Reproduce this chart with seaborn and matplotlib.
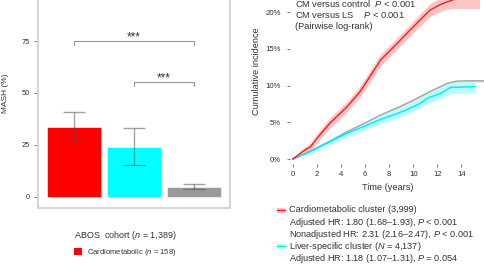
import numpy as np
import pandas as pd
import matplotlib
matplotlib.use("Agg")
import matplotlib.pyplot as plt
from matplotlib.patches import Patch, Rectangle
from matplotlib.lines import Line2D
import seaborn as sns

# ---------------- data ----------------
bar_groups = ["Cardiometabolic", "Liver-specific", "Control"]
bar_values = [33.7, 24.0, 4.8]
bar_err_low = [26.0, 15.5, 3.7]
bar_err_high = [40.9, 33.2, 6.1]
bar_colors = ["#FF0000", "#00FFFF", "#9A9A9A"]
bar_legend_labels = ["Cardiometabolic ($n$ = 158)", "Liver-specific ($n$ = 88)",
                     "Control ($n$ = 1,143)"]
bar_legend_title = "ABOS  cohort ($n$ = 1,389)"
bar_yticks = [0, 25, 50, 75]

cm_time = [0, 0.5, 0.9, 1.5, 2.0, 3.1, 4.5, 5.6, 6.2, 7.3, 8.7, 10.0, 11.4, 12.2, 12.8, 13.5, 14.5, 15.5]
cm_inc = [0, 0.6, 1.1, 1.7, 2.8, 4.9, 7.1, 9.2, 10.7, 13.5, 15.8, 18.0, 20.3, 21.0, 21.4, 21.8, 21.9, 21.9]
cm_lo = [0, 0.3, 0.7, 1.2, 2.2, 4.2, 6.4, 8.5, 9.9, 12.7, 15.0, 17.2, 19.4, 20.0, 20.4, 20.5, 20.5, 20.5]
cm_hi = [0, 0.9, 1.5, 2.2, 3.4, 5.6, 7.8, 9.9, 11.5, 14.3, 16.6, 18.8, 21.2, 21.9, 22.4, 23.0, 23.2, 23.2]

ctl_time = [0, 1, 2, 3, 4.5, 6, 7.3, 8.7, 10.0, 11.4, 12.3, 12.8, 13.6, 14.5, 16.0]
ctl_inc = [0, 0.7, 1.5, 2.3, 3.7, 4.9, 6.0, 7.0, 8.0, 9.2, 9.9, 10.3, 10.6, 10.65, 10.65]

ls_time = [0, 1, 1.7, 3, 4.5, 6, 7.3, 8.7, 10.0, 10.6, 11.2, 12.3, 13.1, 14.0, 15.15]
ls_inc = [0, 0.7, 1.2, 2.3, 3.5, 4.5, 5.4, 6.2, 7.1, 7.6, 8.3, 8.95, 9.75, 9.8, 9.85]
ls_lo = [0, 0.5, 0.9, 1.9, 3.0, 4.0, 4.8, 5.6, 6.5, 7.0, 7.6, 8.2, 8.9, 8.95, 8.95]
ls_hi = [0, 0.9, 1.5, 2.7, 4.0, 5.0, 6.0, 6.9, 7.8, 8.3, 9.0, 9.8, 10.5, 10.5, 10.5]

km_xticks = [0, 2, 4, 6, 8, 10, 12, 14]
km_yticks = [0, 5, 10, 15, 20]
pval_lines = ["CM versus control  $P$ < 0.001",
              "CM versus LS    $P$ < 0.001",
              "(Pairwise log-rank)"]
km_legend_labels = ["Cardiometabolic cluster (3,999)",
                    "Adjusted HR: 1.80 (1.68–1.93), $P$ < 0.001",
                    "Nonadjusted HR: 2.31 (2.16–2.47), $P$ < 0.001",
                    "Liver-specific cluster ($N$ = 4,137)",
                    "Adjusted HR: 1.18 (1.07–1.31), $P$ = 0.054"]
km_legend_keys = ["CM", None, None, "LS", None]

# ---------------- style ----------------
sns.set_style("white")
plt.rcParams["font.family"] = ["Liberation Sans", "DejaVu Sans"]
plt.rcParams["mathtext.fontset"] = "custom"
plt.rcParams["mathtext.it"] = "Liberation Sans:italic"
plt.rcParams["mathtext.rm"] = "Liberation Sans"
TXT = "#333333"
line_colors = {"Control": "#A6A6A6", "LS": "#00E8F0", "CM": "#FF1A1A"}
band_colors = {"Control": "#DDDDDD", "LS": "#B8FCFC", "CM": "#FFC4C4"}

W, H = 485, 264
fig = plt.figure(figsize=(W / 100, H / 100), dpi=100)

def px_rect(l, t, r, b):
    return [l / W, 1 - b / H, (r - l) / W, (b - t) / H]

# ---------------- left: bar chart ----------------
ax1 = fig.add_axes(px_rect(38, -22, 230, 208))
df_bar = pd.DataFrame({"group": bar_groups, "value": bar_values})
sns.barplot(data=df_bar, x="group", y="value", hue="group", palette=bar_colors,
            order=bar_groups, hue_order=bar_groups, errorbar=None, width=0.9,
            legend=False, ax=ax1, saturation=1, edgecolor="white", linewidth=0.4)
xpos = np.arange(len(bar_groups))
vals = np.array(bar_values)
yerr = np.vstack([vals - np.array(bar_err_low), np.array(bar_err_high) - vals])
ax1.errorbar(xpos, vals, yerr=yerr, fmt="none", ecolor="#555555", alpha=0.55,
             elinewidth=1.0, capsize=8.2, capthick=1.0)
ax1.set_xlim(-0.6, 2.6)
ax1.set_ylim(-5.3, 105.3)
ax1.set_yticks(bar_yticks)
ax1.set_xticks([])
ax1.set_xlabel("")
ax1.set_ylabel("MASH (%)", fontsize=6.0, color=TXT, va="center")
ax1.yaxis.set_label_coords(-0.169, 0.5)
ax1.tick_params(axis="y", length=3, width=0.7, color="#777777", pad=2.5,
                labelsize=5.4, labelcolor=TXT, left=True)
for sp in ax1.spines.values():
    sp.set_color("#D4D4D4")
    sp.set_linewidth(1.4)

# significance brackets
def bracket(i, j, y, drop, ax):
    ax.plot([xpos[i], xpos[i], xpos[j], xpos[j]], [y - drop, y, y, y - drop],
            color="#9A9A9A", lw=0.8)
    ax.text((xpos[i] + xpos[j]) / 2, y + 0.3, "***", ha="center", va="baseline",
            fontsize=8.5, color=TXT)
bracket(0, 2, 75.1, 1.8, ax1)
bracket(1, 2, 55.1, 1.8, ax1)

handles1 = [Patch(facecolor=c, edgecolor="none") for c in bar_colors]
leg1 = fig.legend(handles1, bar_legend_labels, title=bar_legend_title,
                  loc="upper left", bbox_to_anchor=(74 / W, 1 - 229 / H),
                  frameon=False, fontsize=5.5, title_fontsize=6.5,
                  handlelength=1.1, handleheight=1.1, handletextpad=0.6,
                  labelspacing=0.7, borderpad=0, borderaxespad=0, alignment="left")
for t in leg1.get_texts():
    t.set_color(TXT)
leg1.get_title().set_color(TXT)

# ---------------- right: cumulative incidence ----------------
ax2 = fig.add_axes(px_rect(290, -22, 485.5, 164))
df_km = pd.concat([
    pd.DataFrame({"t": ctl_time, "inc": ctl_inc, "grp": "Control"}),
    pd.DataFrame({"t": ls_time, "inc": ls_inc, "grp": "LS"}),
    pd.DataFrame({"t": cm_time, "inc": cm_inc, "grp": "CM"}),
])
ax2.fill_between(ctl_time, np.array(ctl_inc) - 0.15, np.array(ctl_inc) + 0.15,
                 color=band_colors["Control"], lw=0)
ax2.fill_between(ls_time, ls_lo, ls_hi, color=band_colors["LS"], lw=0)
ax2.fill_between(cm_time, cm_lo, cm_hi, color=band_colors["CM"], lw=0)
sns.lineplot(data=df_km, x="t", y="inc", hue="grp", palette=line_colors,
             estimator=None, sort=False, legend=False, lw=1.0, ax=ax2)
ax2.set_xlim(-0.22, 16.0)
ax2.set_ylim(-0.68, 24.66)
ax2.set_xticks(km_xticks)
ax2.set_yticks(km_yticks)
ax2.set_yticklabels([f"{v}%" for v in km_yticks])
for sp in ax2.spines.values():
    sp.set_visible(False)
ax2.tick_params(axis="both", length=2.5, width=0.7, color="#777777",
                labelsize=5.6, labelcolor=TXT, bottom=True, left=True)
ax2.tick_params(axis="y", pad=4)
ax2.tick_params(axis="x", pad=2.5)
ax2.set_xlabel("Time (years)", fontsize=6.6, color=TXT, labelpad=4)
ax2.set_ylabel("Cumulative incidence", fontsize=6.6, color=TXT, va="center")
ax2.yaxis.set_label_coords(-0.169, 0.5)

for k, line in enumerate(pval_lines):
    fig.text(295 / W, 1 - (3.5 + 11.6 * k) / H, line, ha="left", va="center",
             fontsize=6.7, color=TXT)

# legend block below the curves (rows of text with keys)
for k, (lab, key) in enumerate(zip(km_legend_labels, km_legend_keys)):
    yc = 210 + 12.1 * k
    fig.text(289 / W, 1 - (yc + 2.5) / H, lab, ha="left", va="baseline",
             fontsize=6.6, color=TXT)
    if key is not None:
        fig.add_artist(Rectangle((277 / W, 1 - (yc + 2.5) / H), 8 / W, 5 / H,
                                 transform=fig.transFigure,
                                 facecolor=band_colors[key], edgecolor="none"))
        fig.add_artist(Line2D([277 / W, 285 / W], [1 - yc / H, 1 - yc / H],
                              transform=fig.transFigure,
                              color=line_colors[key], lw=1.0))

fig.savefig("out.png", dpi=100)
